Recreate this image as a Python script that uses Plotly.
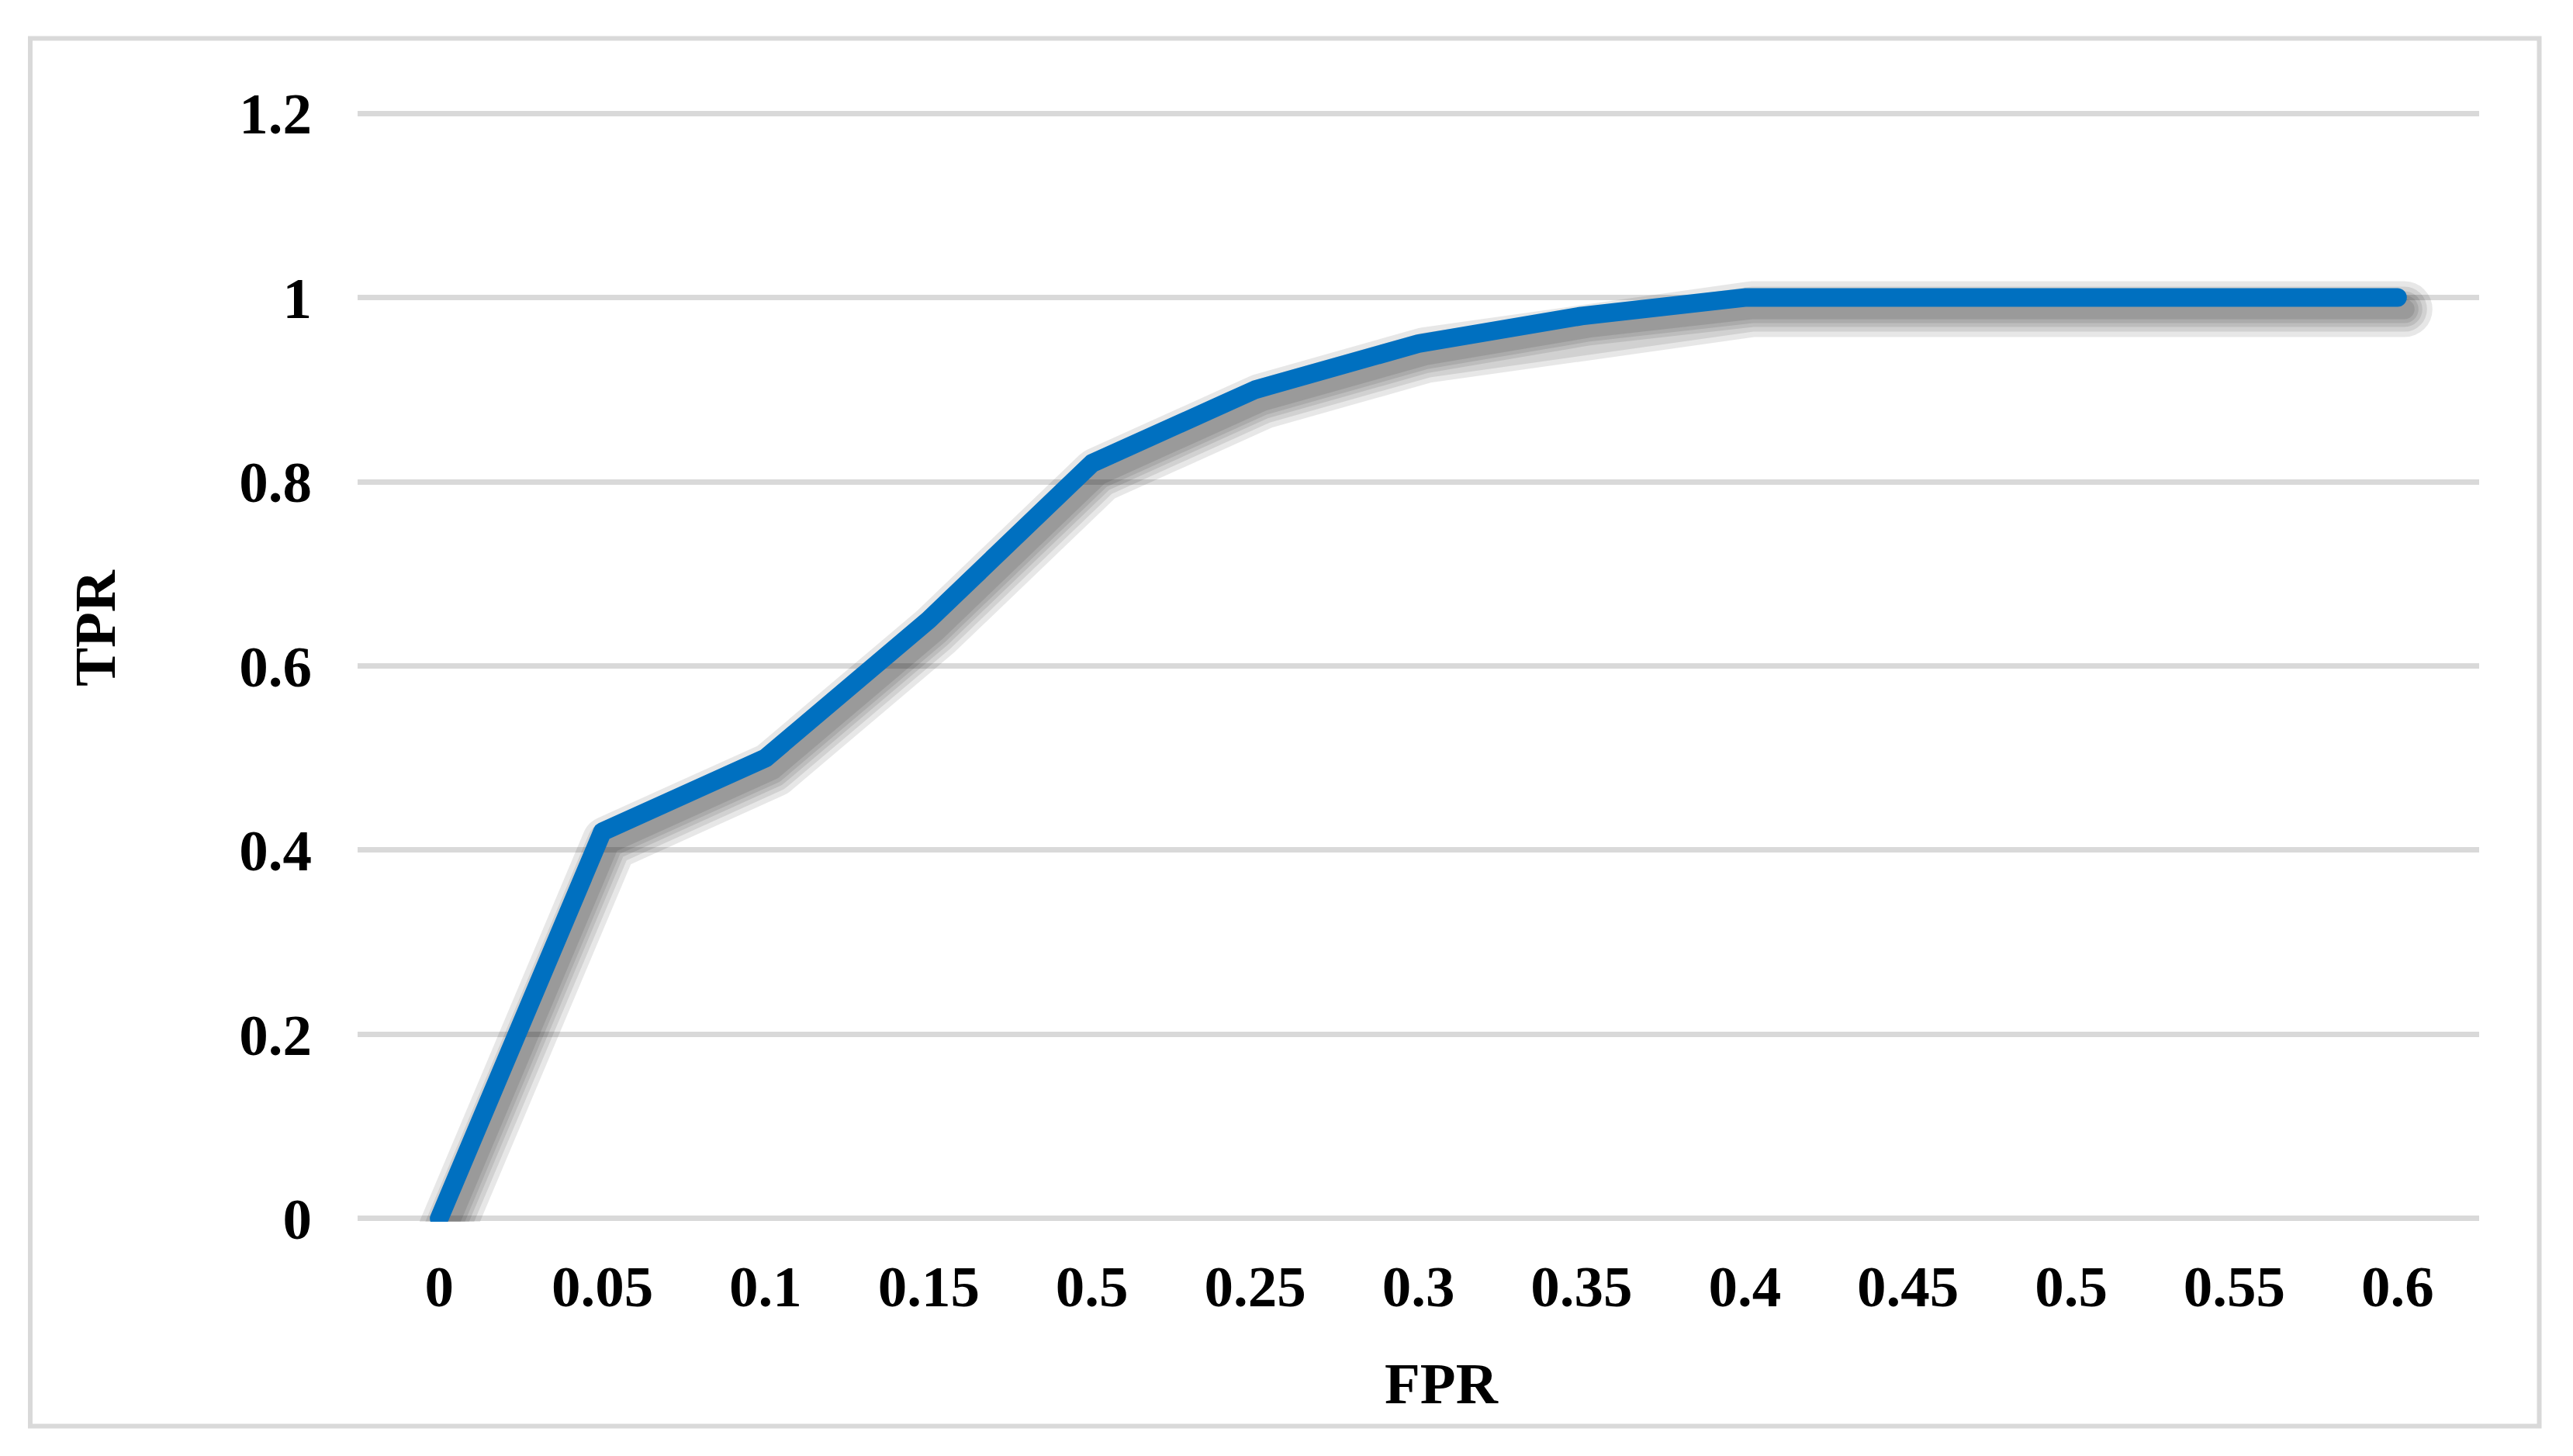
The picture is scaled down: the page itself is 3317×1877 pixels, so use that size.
import plotly.graph_objects as go

# ---- data ----
fpr_labels = ["0", "0.05", "0.1", "0.15", "0.5", "0.25", "0.3", "0.35", "0.4",
              "0.45", "0.5", "0.55", "0.6"]
tpr_values = [0, 0.42, 0.50, 0.65, 0.82, 0.90, 0.95, 0.98, 1, 1, 1, 1, 1]
y_ticks = [0, 0.2, 0.4, 0.6, 0.8, 1, 1.2]
y_tick_labels = ["0", "0.2", "0.4", "0.6", "0.8", "1", "1.2"]

# ---- layout geometry (pixels) ----
W, H = 3317, 1877
L, R, T, B = 461, 3196, 142, 1575
Y0, Y1 = -0.0035, 1.2035
pw, ph = R - L, B - T
FONT = "Liberation Serif"
GRID = "#d9d9d9"
BLUE = "#0070C0"

def px_x(x):
    return (x - L) / pw

def px_y(y):
    return (B - y) / ph

idx = list(range(len(fpr_labels)))

fig = go.Figure()

# soft drop shadow (bottom-right offset, layered translucent strokes)
dx = 9 / (pw / len(fpr_labels))
dy = 15 / ph * (Y1 - Y0)
for w in [72, 58, 46, 36, 26]:
    fig.add_trace(go.Scatter(
        x=[i + dx for i in idx], y=[v - dy for v in tpr_values],
        mode="lines", line=dict(color="rgba(0,0,0,0.095)", width=w),
        hoverinfo="skip", showlegend=False))

fig.add_trace(go.Scatter(
    x=idx, y=tpr_values, mode="lines",
    line=dict(color=BLUE, width=24), showlegend=False, name="ROC"))

fig.update_layout(
    width=W, height=H,
    margin=dict(l=L, r=W - R, t=T, b=H - B, pad=0),
    paper_bgcolor="white", plot_bgcolor="white",
    font=dict(family=FONT, size=75, color="black"),
    showlegend=False,
    xaxis=dict(
        range=[-0.5, len(fpr_labels) - 0.5],
        tickmode="array", tickvals=idx, ticktext=fpr_labels,
        showgrid=False, zeroline=False, showline=False, ticks="",
        tickfont=dict(family=FONT, size=75, color="black", weight="bold"),
        ticklabelstandoff=33,
    ),
    yaxis=dict(
        range=[Y0, Y1],
        tickmode="array", tickvals=y_ticks, ticktext=y_tick_labels,
        showgrid=True, gridcolor=GRID, gridwidth=7,
        zeroline=True, zerolinecolor=GRID, zerolinewidth=7,
        showline=False, ticks="",
        tickfont=dict(family=FONT, size=75, color="black", weight="bold"),
        ticklabelstandoff=58,
    ),
    shapes=[dict(
        type="rect", xref="paper", yref="paper",
        x0=px_x(39), x1=px_x(3273.5), y0=px_y(49.5), y1=px_y(1838.5),
        line=dict(color=GRID, width=6), fillcolor="rgba(0,0,0,0)", layer="below")],
    annotations=[
        dict(text="<b>FPR</b>", xref="paper", yref="paper",
             x=px_x(1858), y=px_y(1783), xanchor="center", yanchor="middle",
             showarrow=False, font=dict(family=FONT, size=75, color="black")),
        dict(text="<b>TPR</b>", xref="paper", yref="paper",
             x=px_x(122), y=px_y(810), xanchor="center", yanchor="middle",
             textangle=-90, showarrow=False,
             font=dict(family=FONT, size=75, color="black")),
    ],
)

post = """
document.body.style.margin='0';
document.querySelectorAll('.scatterlayer .js-line').forEach(function(p){
  p.style.strokeLinejoin='round'; p.style.strokeLinecap='round';
});
"""
fig.write_html("out.html", post_script=post, config={"displayModeBar": False})
